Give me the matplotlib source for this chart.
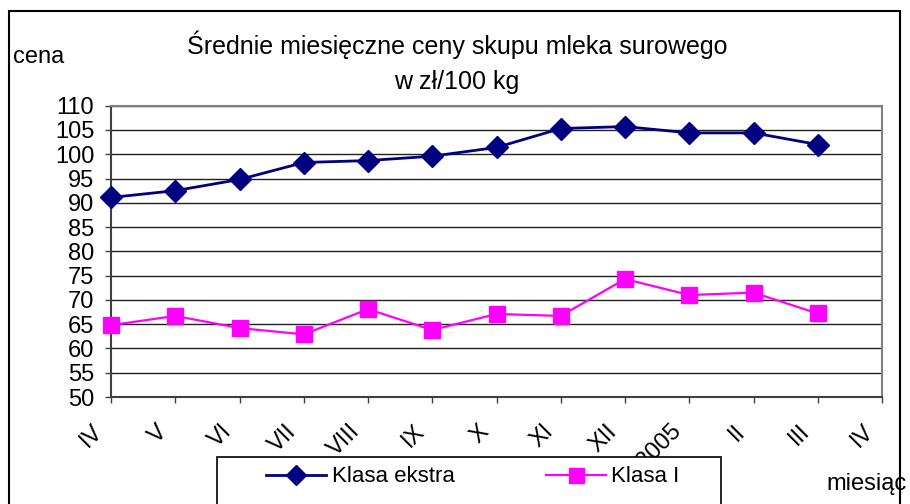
import matplotlib
matplotlib.use("Agg")
import matplotlib.pyplot as plt
from matplotlib.transforms import ScaledTranslation

plt.rcParams['font.family'] = ['Liberation Sans', 'DejaVu Sans']

months = ["IV", "V", "VI", "VII", "VIII", "IX", "X", "XI", "XII", "I 2005", "II", "III", "IV"]
klasa_ekstra = [91.1, 92.5, 94.8, 98.3, 98.7, 99.6, 101.4, 105.3, 105.7, 104.4, 104.4, 102.0]
klasa_i = [64.8, 66.7, 64.2, 62.9, 68.1, 63.8, 67.1, 66.7, 74.3, 71.0, 71.5, 67.2]
yticks = list(range(50, 111, 5))

W, H = 910, 504
fig = plt.figure(figsize=(W / 100, H / 100), dpi=100)
ax = fig.add_axes([111 / W, 1 - 397 / H, (882 - 111) / W, (397 - 105.7) / H])

x = list(range(len(klasa_ekstra)))
ax.plot(x, klasa_ekstra, color='#000080', lw=2, marker='D', markersize=11,
        markerfacecolor='#000080', markeredgecolor='#000080', label='Klasa ekstra',
        clip_on=False, zorder=3)
ax.plot(x, klasa_i, color='#FF00FF', lw=1.6, marker='s', markersize=12,
        markerfacecolor='#FF00FF', markeredgecolor='#FF00FF', label='Klasa I',
        clip_on=False, zorder=3)

ax.set_xlim(0, len(months) - 1)
ax.set_ylim(50, 110)
ax.set_yticks(yticks)
ax.set_yticklabels([str(v) for v in yticks], fontsize=17)
ax.set_xticks(range(len(months)))
ax.set_xticklabels(months, fontsize=17, rotation=45, ha='right', rotation_mode='anchor')
ax.tick_params(axis='x', length=4.3, width=1, color='#404040', pad=14)
ax.tick_params(axis='y', length=4.3, width=1, color='#404040', pad=7.7)
shift = ScaledTranslation(-19 / 100, 2 / 100, fig.dpi_scale_trans)
for lab in ax.get_xticklabels():
    lab.set_transform(lab.get_transform() + shift)
ax.yaxis.grid(True, color='#202020', lw=1)
ax.set_axisbelow(True)
for s in ['left', 'bottom']:
    ax.spines[s].set_color('#404040')
    ax.spines[s].set_linewidth(1.5)
for s in ['top', 'right']:
    ax.spines[s].set_color('#808080')
    ax.spines[s].set_linewidth(1.5)

fig.text(457 / W, 1 - 45 / H, "Średnie miesięczne ceny skupu mleka surowego",
         ha='center', va='center', fontsize=18)
fig.text(457 / W, 1 - 82 / H, "w zł/100 kg", ha='center', va='center', fontsize=18)
fig.text(13 / W, 1 - 57 / H, "cena", ha='left', va='center', fontsize=17)
fig.text(826 / W, 1 - 484 / H, "miesiąc", ha='left', va='center', fontsize=17)

# legend frame
fig.patches.append(plt.Rectangle((217 / W, 1 - 540 / H), (721 - 217) / W, (540 - 457) / H,
                                 transform=fig.transFigure, facecolor='white',
                                 edgecolor='black', lw=1.2, zorder=9))
leg = fig.legend(loc='center left', bbox_to_anchor=(266 / W, 1 - 477 / H), ncol=2,
                 fontsize=16, frameon=False,
                 handlelength=2.7, handletextpad=0.25, columnspacing=4.1,
                 borderpad=0, borderaxespad=0, markerscale=0.9)
leg.set_zorder(10)

# outer frame
fig.patches.append(plt.Rectangle((9 / W, -0.1), (900 - 9) / W, 1.1 - 11 / H,
                                 transform=fig.transFigure, fill=False,
                                 edgecolor='black', lw=1.5))

fig.savefig("out.png", dpi=100)
